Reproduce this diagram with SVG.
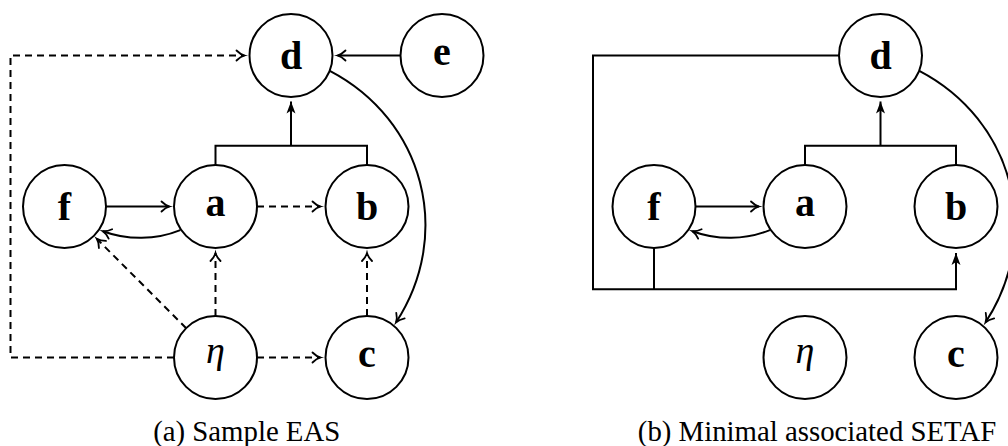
<svg xmlns="http://www.w3.org/2000/svg" width="1008" height="446" viewBox="0 0 1008 446">
<defs>
<style>
.n{fill:#fff;stroke:#000;stroke-width:2}
.l{font-family:'Liberation Serif',serif;font-weight:bold;font-size:40px;text-anchor:middle;fill:#000}
.eta{font-family:'Liberation Serif',serif;font-style:italic;font-size:38px;text-anchor:middle;fill:#000}
.cap{font-family:'Liberation Serif',serif;font-size:28.8px;text-anchor:middle;fill:#000}
.e{fill:none;stroke:#000;stroke-width:2}
.d{stroke-dasharray:7 5}
</style>
<marker id="to" markerUnits="userSpaceOnUse" viewBox="-10 -10 20 20" markerWidth="20" markerHeight="20" refX="0" refY="0" orient="auto" overflow="visible">
<path d="M-8,-5 C-5.3,-2.3 -2.3,-0.6 0,0 C-2.3,0.6 -5.3,2.3 -8,5" fill="none" stroke="#000" stroke-width="1.8" stroke-linecap="round" stroke-dasharray="none"/>
</marker>
<marker id="st" markerUnits="userSpaceOnUse" viewBox="-14 -6 16 12" markerWidth="16" markerHeight="12" refX="0" refY="0" orient="auto" overflow="visible">
<path d="M0,0 L-12,-4.5 L-9,0 L-12,4.5 Z" fill="#000" stroke="none"/>
</marker>
</defs>
<g id="connectors">
<path class="e d" d="M174,357.5 H10.5 V55.5 H244.5" marker-end="url(#to)"/>
<path class="e" d="M400.5,55.5 H337.5" marker-end="url(#to)"/>
<path class="e" d="M329.8,70.9 C424,120.1 453.6,233.8 396.1,322.3" marker-end="url(#to)"/>
<path class="e" d="M215.5,165 V145.7 H367 V165"/>
<path class="e" d="M291,145.7 V101.5" marker-end="url(#st)"/>
<path class="e" d="M106,206.5 H169.5" marker-end="url(#to)"/>
<path class="e" d="M180.3,230.1 C155.6,240.1 127.8,240.4 102.9,231.2" marker-end="url(#to)"/>
<path class="e d" d="M257,206.5 H320.5" marker-end="url(#to)"/>
<path class="e d" d="M186.2,328.2 L96.8,238.8" marker-end="url(#to)"/>
<path class="e d" d="M215.5,316 V253" marker-end="url(#to)"/>
<path class="e d" d="M367,316 V253" marker-end="url(#to)"/>
<path class="e d" d="M257,357.5 H320.5" marker-end="url(#to)"/>
<path class="e" d="M839,55.5 H593 V289.3 H956 V253" marker-end="url(#st)"/>
<path class="e" d="M654,248 V289.3"/>
<path class="e" d="M919.3,70.9 C1013.5,120.1 1043.1,233.8 985.6,322.3" marker-end="url(#to)"/>
<path class="e" d="M805,165 V145.7 H956 V165"/>
<path class="e" d="M880.5,145.7 V101.5" marker-end="url(#st)"/>
<path class="e" d="M695.5,206.5 H759" marker-end="url(#to)"/>
<path class="e" d="M769.8,230.1 C745.1,240.1 717.3,240.4 692.4,231.2" marker-end="url(#to)"/>
</g>
<g id="left-d"><circle class="n" cx="291" cy="55.5" r="41.5"/><text class="l" x="291" y="69">d</text></g>
<g id="left-e"><circle class="n" cx="442" cy="55.5" r="41.5"/><text class="l" x="442" y="64.8">e</text></g>
<g id="left-f"><circle class="n" cx="64.5" cy="206.5" r="41.5"/><text class="l" x="64.5" y="220">f</text></g>
<g id="left-a"><circle class="n" cx="215.5" cy="206.5" r="41.5"/><text class="l" x="215.5" y="215.8">a</text></g>
<g id="left-b"><circle class="n" cx="367" cy="206.5" r="41.5"/><text class="l" x="367" y="220">b</text></g>
<g id="left-eta"><circle class="n" cx="215.5" cy="357.5" r="41.5"/><text class="eta" x="215.5" y="362.5">η</text></g>
<g id="left-c"><circle class="n" cx="367" cy="357.5" r="41.5"/><text class="l" x="367" y="366.8">c</text></g>
<g id="right-d"><circle class="n" cx="880.5" cy="55.5" r="41.5"/><text class="l" x="880.5" y="69">d</text></g>
<g id="right-f"><circle class="n" cx="654" cy="206.5" r="41.5"/><text class="l" x="654" y="220">f</text></g>
<g id="right-a"><circle class="n" cx="805" cy="206.5" r="41.5"/><text class="l" x="805" y="215.8">a</text></g>
<g id="right-b"><circle class="n" cx="956" cy="206.5" r="41.5"/><text class="l" x="956" y="220">b</text></g>
<g id="right-eta"><circle class="n" cx="805" cy="357.5" r="41.5"/><text class="eta" x="805" y="362.5">η</text></g>
<g id="right-c"><circle class="n" cx="956" cy="357.5" r="41.5"/><text class="l" x="956" y="366.8">c</text></g>
<text class="cap" x="246.7" y="440.5">(a) Sample EAS</text>
<text class="cap" x="817" y="440.5">(b) Minimal associated SETAF</text>
</svg>
